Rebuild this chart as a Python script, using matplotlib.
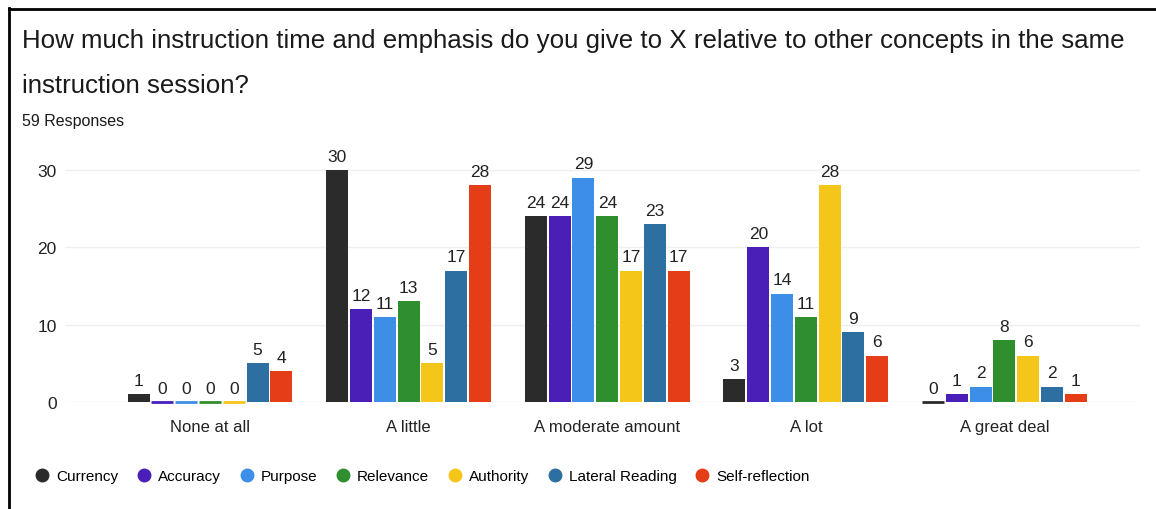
import numpy as np
import matplotlib
matplotlib.use("Agg")
import matplotlib.pyplot as plt
from matplotlib.lines import Line2D

plt.rcParams['font.family'] = ['Liberation Sans', 'DejaVu Sans']

categories = ["None at all", "A little", "A moderate amount", "A lot", "A great deal"]
series = ["Currency", "Accuracy", "Purpose", "Relevance", "Authority",
          "Lateral Reading", "Self-reflection"]
currency = [1, 30, 24, 3, 0]
accuracy = [0, 12, 24, 20, 1]
purpose = [0, 11, 29, 14, 2]
relevance = [0, 13, 24, 11, 8]
authority = [0, 5, 17, 28, 6]
lateral_reading = [5, 17, 23, 9, 2]
self_reflection = [4, 28, 17, 6, 1]
values = [currency, accuracy, purpose, relevance, authority,
          lateral_reading, self_reflection]
colors = ["#2b2b2b", "#4a1fb8", "#3c8ee6", "#2f8f2f", "#f4c619",
          "#2d6fa0", "#e43d17"]

W, H = 1156, 510
fig = plt.figure(figsize=(W / 100, H / 100), dpi=100)
fig.patch.set_facecolor("white")


def px(x, y):
    """pixel position (from top-left) -> figure fraction"""
    return x / W, 1 - y / H


# axes box in pixels: left 65, right 1140, zero line at 403, top at value 31
px_per_unit = (403 - 171) / 30
top = 403 - 31 * px_per_unit
ax = fig.add_axes([65 / W, (H - 403) / H, (1140 - 65) / W, (403 - top) / H])

x = np.arange(len(categories))
slot = 23.8 / 198.6
width = 22 / 198.6
for i, (name, vals, c) in enumerate(zip(series, values, colors)):
    pos = x + (i - 3) * slot
    bars = ax.bar(pos, vals, width=width, color=c, label=name, zorder=3)
    for b, v in zip(bars, vals):
        if v == 0:
            # empty categories still get a thin coloured stub
            ax.hlines(0, b.get_x(), b.get_x() + width, color=c, lw=2,
                      zorder=3, clip_on=False)
        ax.annotate(str(v), (b.get_x() + width / 2, v), xytext=(0, 4.5),
                    textcoords="offset points", ha="center", va="bottom",
                    fontsize=12.5, color="#222222")

ax.set_xlim(-145 / 198.6, 4 + 135.5 / 198.6)
ax.set_ylim(0, 31)
ax.set_yticks([0, 10, 20, 30])
ax.set_xticks(x)
ax.set_xticklabels(categories)
ax.tick_params(axis="x", length=0, pad=12, labelsize=12, labelcolor="#222222")
ax.tick_params(axis="y", length=0, pad=6, labelsize=12.5, labelcolor="#222222")
ax.grid(axis="y", color="#efefef", lw=1, zorder=0)
for s in ax.spines.values():
    s.set_visible(False)

# titles
fig.text(*px(22, 48), "How much instruction time and emphasis do you give to X "
         "relative to other concepts in the same", fontsize=18.6, va="baseline",
         color="#1a1a1a")
fig.text(*px(22, 93), "instruction session?", fontsize=18.6, va="baseline",
         color="#1a1a1a")
fig.text(*px(22, 126), "59 Responses", fontsize=11.5, va="baseline",
         color="#1a1a1a")

# legend row
handles = [Line2D([], [], marker="o", ls="", color=c, markersize=9)
           for c in colors]
fig.legend(handles, series, loc="center left", bbox_to_anchor=px(30, 477),
           ncol=7, frameon=False, fontsize=11, handlelength=0.8,
           handletextpad=0.5, columnspacing=1.3, borderaxespad=0)

# frame lines on the top and left edges
fig.add_artist(Line2D([9 / W, 9 / W], [0, 1 - 9 / H], color="black", lw=2))
fig.add_artist(Line2D([9 / W, 1], [1 - 10 / H, 1 - 10 / H], color="black", lw=2))

fig.savefig("out.png", dpi=100)
